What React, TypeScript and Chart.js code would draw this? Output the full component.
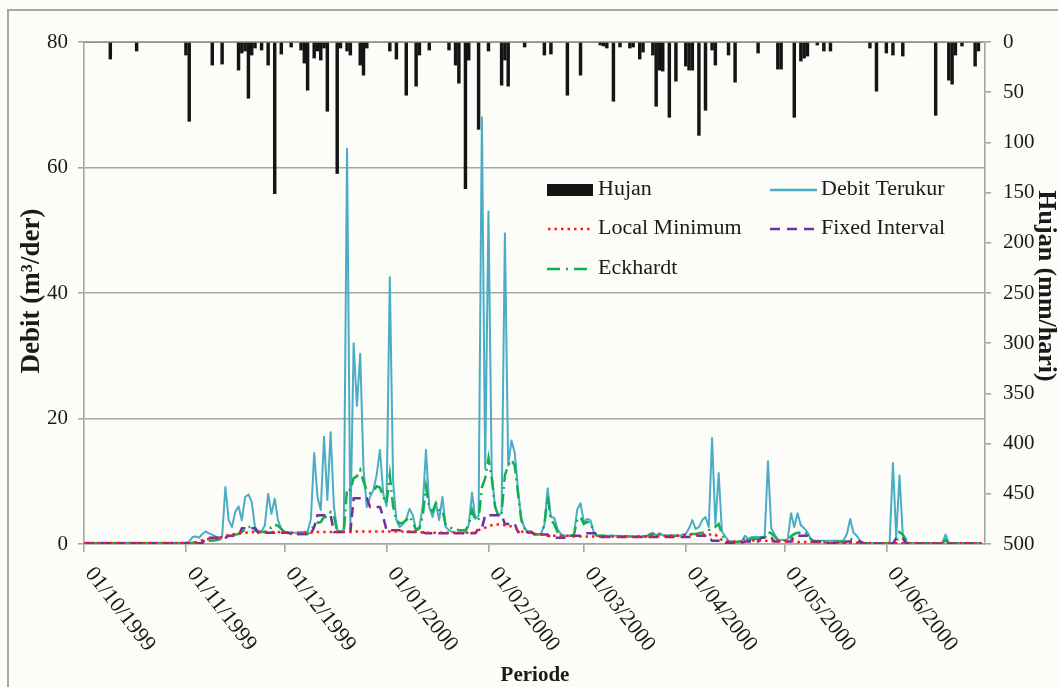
import React, { useEffect, useRef } from 'react';
import { Chart, registerables } from 'chart.js';

Chart.register(...registerables);

const SERIF = '"Liberation Serif", "Times New Roman", serif';

// Day index 0 = 01/10/1999 ... 273 = 30/06/2000
const monthTickDays = [0, 31, 61, 92, 123, 152, 183, 213, 244];
const monthTickLabels = [
  '01/10/1999', '01/11/1999', '01/12/1999', '01/01/2000', '01/02/2000',
  '01/03/2000', '01/04/2000', '01/05/2000', '01/06/2000',
];

// Hujan (mm/hari)
const hujan = [
  0, 0, 0, 0, 0, 0, 0, 0, 17, 0,
  0, 0, 0, 0, 0, 0, 9, 0, 0, 0,
  0, 0, 0, 0, 0, 0, 0, 0, 0, 0,
  0, 13, 79, 0, 0, 0, 0, 0, 0, 23,
  0, 0, 22, 0, 0, 0, 0, 28, 11, 9,
  56, 13, 6, 0, 8, 0, 23, 0, 151, 0,
  12, 0, 0, 5, 0, 0, 8, 21, 48, 0,
  16, 9, 18, 6, 69, 0, 0, 131, 6, 0,
  9, 13, 0, 0, 23, 33, 6, 0, 0, 0,
  0, 0, 0, 9, 0, 17, 0, 0, 53, 0,
  0, 44, 13, 0, 0, 8, 0, 0, 0, 0,
  0, 8, 0, 23, 41, 0, 146, 18, 0, 0,
  87, 0, 0, 9, 0, 0, 0, 43, 18, 44,
  0, 0, 0, 0, 5, 0, 0, 0, 0, 0,
  13, 0, 12, 0, 0, 0, 0, 53, 0, 0,
  0, 33, 0, 0, 0, 0, 0, 3, 4, 6,
  0, 59, 0, 5, 0, 0, 6, 5, 0, 17,
  10, 0, 0, 13, 64, 28, 29, 0, 75, 0,
  39, 0, 0, 24, 28, 28, 0, 93, 0, 68,
  0, 8, 23, 0, 0, 0, 13, 0, 40, 0,
  0, 0, 0, 0, 0, 11, 0, 0, 0, 0,
  0, 27, 27, 0, 0, 0, 75, 0, 19, 16,
  14, 0, 0, 3, 0, 9, 0, 9, 0, 0,
  0, 0, 0, 0, 0, 0, 0, 0, 0, 6,
  0, 49, 0, 0, 11, 0, 13, 0, 0, 14,
  0, 0, 0, 0, 0, 0, 0, 0, 0, 73,
  0, 0, 0, 38, 42, 13, 0, 4, 0, 0,
  0, 24, 9, 0,
];

// Debit Terukur (m3/det)
const debitTerukur = [
  0.2, 0.2, 0.2, 0.2, 0.2, 0.2, 0.2, 0.2, 0.2, 0.2,
  0.2, 0.2, 0.2, 0.2, 0.2, 0.2, 0.2, 0.2, 0.2, 0.2,
  0.2, 0.2, 0.2, 0.2, 0.2, 0.2, 0.2, 0.2, 0.2, 0.2,
  0.2, 0.2, 0.4, 1.1, 1.2, 1.0, 1.6, 2.0, 1.7, 1.5,
  1.2, 1.0, 1.2, 9.1, 3.8, 2.7, 5.1, 6.0, 3.8, 7.5,
  7.9, 6.7, 2.7, 2.0, 2.0, 3.0, 8.0, 4.8, 7.2, 3.8,
  2.4, 1.9, 1.9, 1.8, 1.8, 1.8, 1.9, 1.9, 2.0, 4.0,
  14.5, 7.5, 5.4, 17.1, 7.0, 17.8, 5.9, 2.2, 2.0, 2.2,
  63.0, 2.2, 32.0, 22.0, 30.3, 12.0, 5.9, 7.5, 8.6, 11.0,
  15.0, 8.0, 6.0, 42.5, 10.0, 3.8, 2.7, 3.2, 4.0, 5.6,
  4.6, 2.2, 2.7, 6.0, 15.0, 5.9, 4.3, 6.5, 3.8, 7.5,
  2.7, 2.2, 1.9, 1.8, 1.8, 1.8, 1.9, 3.0, 8.2, 4.0,
  4.5, 68.0, 12.0, 53.0, 11.0, 6.0, 4.5, 5.0, 49.5, 12.5,
  16.5, 14.5, 8.5, 4.0, 2.5, 2.0, 2.0, 1.6, 1.5, 1.6,
  3.0, 8.9, 4.3, 4.2, 2.4, 1.6, 1.3, 1.3, 1.3, 1.5,
  5.5, 6.5, 3.5, 4.0, 3.8, 1.9, 1.3, 1.3, 1.3, 1.3,
  1.3, 1.3, 1.3, 1.2, 1.2, 1.2, 1.2, 1.2, 1.2, 1.2,
  1.2, 1.2, 1.6, 1.8, 1.4, 1.7, 1.4, 1.3, 1.3, 1.3,
  1.3, 1.3, 1.5, 1.6, 2.5, 3.8, 2.4, 2.7, 3.8, 4.3,
  2.7, 16.9, 3.0, 11.3, 2.0, 1.2, 0.5, 0.4, 0.4, 0.4,
  0.4, 1.3, 0.8, 1.1, 1.1, 1.1, 1.1, 1.2, 13.2, 2.5,
  1.5, 0.7, 0.65, 0.65, 0.7, 4.9, 2.7, 4.9, 3.0, 2.5,
  1.9, 0.8, 0.5, 0.5, 0.5, 0.5, 0.5, 0.5, 0.5, 0.5,
  0.5, 0.6, 1.6, 4.0, 1.8, 1.3, 0.6, 0.2, 0.15, 0.15,
  0.15, 0.15, 0.15, 0.15, 0.15, 0.15, 12.9, 1.1, 10.9, 1.5,
  0.4, 0.15, 0.15, 0.15, 0.15, 0.15, 0.15, 0.15, 0.15, 0.15,
  0.15, 0.15, 1.5, 0.15, 0.15, 0.15, 0.15, 0.15, 0.15, 0.15,
  0.15, 0.15, 0.15, 0.15,
];

// Local Minimum
const localMinimum = [
  0.1, 0.1, 0.1, 0.1, 0.1, 0.1, 0.1, 0.1, 0.1, 0.1,
  0.1, 0.1, 0.1, 0.1, 0.1, 0.1, 0.1, 0.1, 0.1, 0.1,
  0.1, 0.1, 0.1, 0.1, 0.1, 0.1, 0.1, 0.1, 0.1, 0.1,
  0.1, 0.1, 0.1, 0.2, 0.3, 0.45, 0.6, 0.7, 0.8, 0.9,
  1.0, 1.0, 1.1, 1.3, 1.45, 1.5, 1.6, 1.7, 1.75, 1.8,
  1.85, 1.9, 1.9, 1.9, 1.9, 1.9, 1.9, 1.9, 1.9, 1.9,
  1.9, 1.9, 1.8, 1.8, 1.8, 1.8, 1.8, 1.8, 1.8, 1.8,
  1.9, 1.9, 1.9, 1.9, 1.9, 1.9, 1.9, 1.9, 1.9, 1.9,
  1.9, 2.0, 2.0, 2.0, 2.0, 2.0, 2.0, 2.0, 2.0, 2.0,
  2.0, 2.0, 2.0, 2.0, 2.0, 2.0, 2.0, 2.0, 2.0, 2.0,
  2.0, 2.0, 2.0, 1.8, 1.8, 1.8, 1.8, 1.8, 1.8, 1.8,
  1.8, 1.8, 1.8, 1.8, 1.8, 1.8, 1.8, 1.8, 1.8, 1.8,
  2.2, 2.4, 2.6, 2.8, 3.0, 3.1, 3.1, 3.1, 3.0, 2.9,
  2.8, 2.5, 2.3, 2.0, 1.9, 1.8, 1.7, 1.6, 1.5, 1.5,
  1.5, 1.3, 1.3, 1.3, 1.3, 1.3, 1.3, 1.3, 1.2, 1.2,
  1.2, 1.2, 1.2, 1.2, 1.2, 1.2, 1.2, 1.2, 1.2, 1.2,
  1.2, 1.2, 1.2, 1.2, 1.2, 1.2, 1.2, 1.2, 1.2, 1.2,
  1.2, 1.2, 1.3, 1.3, 1.3, 1.3, 1.3, 1.3, 1.3, 1.3,
  1.3, 1.3, 1.4, 1.5, 1.5, 1.5, 1.5, 1.5, 1.5, 1.5,
  1.5, 1.5, 1.5, 1.0, 0.65, 0.55, 0.4, 0.4, 0.4, 0.4,
  0.4, 0.55, 0.55, 0.55, 0.55, 0.55, 0.55, 0.55, 0.45, 0.45,
  0.45, 0.45, 0.45, 0.45, 0.45, 0.45, 0.45, 0.3, 0.3, 0.3,
  0.3, 0.3, 0.3, 0.3, 0.3, 0.3, 0.15, 0.15, 0.15, 0.15,
  0.15, 0.15, 0.15, 0.15, 0.15, 0.15, 0.15, 0.15, 0.15, 0.15,
  0.1, 0.1, 0.1, 0.1, 0.1, 0.1, 0.1, 0.1, 0.1, 0.1,
  0.1, 0.1, 0.1, 0.1, 0.1, 0.1, 0.1, 0.1, 0.1, 0.1,
  0.1, 0.1, 0.1, 0.1, 0.1, 0.1, 0.1, 0.1, 0.1, 0.1,
  0.1, 0.1, 0.1, 0.1,
];

// Fixed Interval
const fixedInterval = [
  0.1, 0.1, 0.1, 0.1, 0.1, 0.1, 0.1, 0.1, 0.1, 0.1,
  0.1, 0.1, 0.1, 0.1, 0.1, 0.1, 0.1, 0.1, 0.1, 0.1,
  0.1, 0.1, 0.1, 0.1, 0.1, 0.1, 0.1, 0.1, 0.1, 0.1,
  0.1, 0.1, 0.1, 0.1, 0.1, 0.1, 0.1, 1.0, 1.0, 1.0,
  1.0, 1.0, 1.0, 1.0, 1.3, 1.3, 1.3, 1.3, 2.5, 2.5,
  2.5, 2.5, 2.5, 1.8, 1.8, 1.8, 1.8, 1.8, 1.8, 1.8,
  1.8, 1.8, 1.8, 1.6, 1.6, 1.6, 1.6, 1.6, 1.6, 1.6,
  2.7, 4.6, 4.6, 4.6, 4.6, 4.6, 1.9, 1.9, 1.9, 1.9,
  1.9, 1.9, 7.3, 7.3, 7.3, 7.3, 7.3, 5.9, 5.9, 5.9,
  5.9, 4.3, 2.2, 2.2, 2.2, 2.2, 2.2, 1.9, 1.9, 1.9,
  1.9, 1.9, 1.9, 1.9, 1.7, 1.7, 1.7, 1.7, 1.7, 1.7,
  1.7, 1.7, 1.7, 1.7, 1.7, 1.7, 1.7, 1.7, 1.7, 1.7,
  2.5, 2.5, 4.6, 4.6, 4.6, 4.6, 4.6, 4.6, 3.2, 3.2,
  3.2, 3.2, 1.9, 1.9, 1.9, 1.9, 1.9, 1.5, 1.5, 1.5,
  1.5, 1.5, 1.0, 1.0, 1.0, 1.0, 1.0, 1.3, 1.3, 1.3,
  1.3, 1.3, 1.7, 1.7, 1.7, 1.7, 1.7, 1.1, 1.1, 1.1,
  1.1, 1.1, 1.1, 1.1, 1.1, 1.1, 1.1, 1.1, 1.1, 1.1,
  1.1, 1.1, 1.1, 1.1, 1.1, 1.1, 1.1, 1.1, 1.1, 1.1,
  1.1, 1.1, 1.1, 1.1, 1.1, 1.1, 1.3, 1.3, 1.3, 1.3,
  1.3, 0.5, 0.5, 0.5, 0.5, 0.2, 0.2, 0.2, 0.2, 0.2,
  0.2, 0.4, 0.4, 0.4, 0.4, 0.4, 1.0, 1.0, 1.0, 1.0,
  0.4, 0.4, 0.4, 0.4, 0.4, 0.4, 1.3, 1.3, 1.3, 1.3,
  1.3, 0.4, 0.4, 0.4, 0.4, 0.4, 0.1, 0.1, 0.1, 0.1,
  0.1, 0.1, 0.4, 0.4, 0.4, 0.4, 0.4, 0.05, 0.05, 0.05,
  0.05, 0.05, 0.05, 0.05, 0.05, 0.05, 0.05, 0.9, 0.9, 0.9,
  0.05, 0.05, 0.05, 0.05, 0.05, 0.05, 0.05, 0.05, 0.05, 0.05,
  0.05, 0.05, 0.05, 0.05, 0.05, 0.05, 0.05, 0.05, 0.05, 0.05,
  0.05, 0.05, 0.05, 0.05,
];

// Eckhardt
const eckhardt = [
  0.1, 0.1, 0.1, 0.1, 0.1, 0.1, 0.1, 0.1, 0.1, 0.1,
  0.1, 0.1, 0.1, 0.1, 0.1, 0.1, 0.1, 0.1, 0.1, 0.1,
  0.1, 0.1, 0.1, 0.1, 0.1, 0.1, 0.1, 0.1, 0.1, 0.1,
  0.1, 0.1, 0.1, 0.2, 0.25, 0.3, 0.3, 0.4, 0.5, 0.55,
  0.6, 0.7, 0.9, 1.2, 1.3, 1.3, 1.5, 1.6, 1.9, 2.3,
  2.7, 2.7, 2.2, 1.9, 1.9, 1.9, 2.6, 2.6, 3.1, 2.9,
  2.4, 1.8, 1.7, 1.6, 1.6, 1.6, 1.6, 1.6, 1.6, 2.2,
  3.0, 3.4, 3.5, 4.3, 4.3, 5.1, 4.5, 2.0, 1.9, 1.9,
  8.9, 8.6, 10.5, 10.8, 11.8, 10.0, 8.5, 8.1, 8.4, 9.2,
  9.0, 7.5, 6.5, 11.0, 6.0, 3.8, 3.3, 3.4, 3.8, 4.4,
  3.5, 2.2, 2.5, 4.5, 9.1, 5.9, 5.2, 6.5, 5.4, 5.4,
  3.0, 2.7, 2.5, 2.3, 2.2, 2.2, 2.2, 3.0, 5.4, 3.8,
  4.0, 9.0, 10.5, 13.7, 10.5, 6.0, 4.5, 5.0, 11.0, 12.5,
  13.4, 12.5, 8.0, 3.8, 2.5, 2.0, 1.8, 1.6, 1.5, 1.6,
  3.0, 7.5, 3.8, 3.2, 1.9, 1.5, 1.3, 1.3, 1.3, 1.5,
  3.8, 4.3, 3.2, 3.5, 3.5, 1.9, 1.3, 1.3, 1.3, 1.3,
  1.3, 1.3, 1.3, 1.2, 1.2, 1.2, 1.2, 1.2, 1.2, 1.2,
  1.2, 1.2, 1.5, 1.6, 1.4, 1.6, 1.4, 1.3, 1.3, 1.3,
  1.3, 1.3, 1.4, 1.4, 1.5, 1.6, 1.6, 1.7, 1.8, 1.9,
  2.2, 2.4, 2.7, 3.2, 1.6, 0.5, 0.3, 0.3, 0.3, 0.3,
  0.3, 1.0, 0.5, 0.8, 0.8, 0.8, 0.8, 0.9, 1.9, 1.7,
  1.2, 0.65, 0.55, 0.55, 0.55, 1.2, 1.6, 1.8, 1.8, 1.9,
  1.5, 0.8, 0.3, 0.3, 0.3, 0.3, 0.3, 0.3, 0.3, 0.3,
  0.3, 0.3, 0.65, 0.8, 0.65, 0.3, 0.1, 0.1, 0.1, 0.1,
  0.1, 0.1, 0.1, 0.1, 0.1, 0.1, 0.1, 0.1, 1.9, 1.5,
  0.65, 0.1, 0.1, 0.1, 0.1, 0.1, 0.1, 0.1, 0.1, 0.1,
  0.1, 0.1, 0.65, 0.1, 0.1, 0.1, 0.1, 0.1, 0.1, 0.1,
  0.1, 0.1, 0.1, 0.1,
];

const COLORS = {
  hujan: '#141414',
  terukur: '#4bacc6',
  local: '#ff1a1a',
  fixed: '#7030a0',
  eck: '#10b050',
  grid: '#a6a6a6',
  text: '#1a1a1a',
};

const toXY = (arr: number[]) => arr.map((v, i) => ({ x: i, y: v }));

export default function App() {
  const ref = useRef<HTMLCanvasElement | null>(null);

  useEffect(() => {
    if (!ref.current) return;

    const overlay = {
      id: 'overlay',
      afterDraw(chart: any) {
        const ctx = chart.ctx as CanvasRenderingContext2D;
        const xs = chart.scales.x;
        ctx.save();
        ctx.fillStyle = COLORS.text;

        // rotated date labels
        ctx.font = `22px ${SERIF}`;
        ctx.textAlign = 'left';
        ctx.textBaseline = 'middle';
        monthTickDays.forEach((d, i) => {
          const px = xs.getPixelForValue(d);
          ctx.save();
          ctx.translate(px + 5, 570);
          ctx.rotate((52 * Math.PI) / 180);
          ctx.fillText(monthTickLabels[i], 0, 0);
          ctx.restore();
        });

        // axis titles
        ctx.font = `bold 27px ${SERIF}`;
        ctx.textAlign = 'center';
        ctx.textBaseline = 'middle';
        ctx.save();
        ctx.translate(32, 291);
        ctx.rotate(-Math.PI / 2);
        ctx.fillText('Debit (m\u00b3/der)', 0, 0);
        ctx.restore();
        ctx.font = `bold 26px ${SERIF}`;
        ctx.save();
        ctx.translate(1046, 286);
        ctx.rotate(Math.PI / 2);
        ctx.fillText('Hujan (mm/hari)', 0, 0);
        ctx.restore();
        ctx.font = `bold 21px ${SERIF}`;
        ctx.fillText('Periode', 535, 676);

        // legend
        const rows = [190, 229, 269];
        const label = (t: string, x: number, y: number) => {
          ctx.save();
          ctx.font = `20px ${SERIF}`;
          ctx.textAlign = 'left';
          ctx.textBaseline = 'middle';
          ctx.fillStyle = COLORS.text;
          ctx.translate(x, y);
          ctx.scale(1.1, 1);
          ctx.fillText(t, 0, 0);
          ctx.restore();
        };
        const seg = (x1: number, x2: number, y: number, color: string, dash: number[], w: number) => {
          ctx.save();
          ctx.strokeStyle = color;
          ctx.lineWidth = w;
          ctx.setLineDash(dash);
          ctx.beginPath();
          ctx.moveTo(x1, y);
          ctx.lineTo(x2, y);
          ctx.stroke();
          ctx.restore();
        };
        ctx.fillStyle = COLORS.hujan;
        ctx.fillRect(547, 184, 46, 12);
        label('Hujan', 598, rows[0]);
        seg(770, 817, rows[0], COLORS.terukur, [], 2.5);
        label('Debit Terukur', 821, rows[0]);
        seg(548, 593, rows[1], COLORS.local, [2.5, 4], 2.5);
        label('Local Minimum', 598, rows[1]);
        seg(770, 817, rows[1], COLORS.fixed, [10, 7], 2.5);
        label('Fixed Interval', 821, rows[1]);
        seg(547, 593, rows[2], COLORS.eck, [13, 6, 2, 6], 2.5);
        label('Eckhardt', 598, rows[2]);
        ctx.restore();
      },
    };

    const tickFont = { family: SERIF, size: 21 };

    const chart = new Chart(ref.current, {
      type: 'bar',
      data: {
        datasets: [
          {
            type: 'line',
            label: 'Local Minimum',
            data: toXY(localMinimum),
            borderColor: COLORS.local,
            borderWidth: 2.5,
            borderDash: [2.5, 4],
            pointRadius: 0,
            yAxisID: 'y',
            order: 1,
          },
          {
            type: 'line',
            label: 'Fixed Interval',
            data: toXY(fixedInterval),
            borderColor: COLORS.fixed,
            borderWidth: 2.5,
            borderDash: [10, 6],
            pointRadius: 0,
            yAxisID: 'y',
            order: 2,
          },
          {
            type: 'line',
            label: 'Eckhardt',
            data: toXY(eckhardt),
            borderColor: COLORS.eck,
            borderWidth: 2.5,
            borderDash: [13, 5, 2, 5],
            pointRadius: 0,
            yAxisID: 'y',
            order: 3,
          },
          {
            type: 'line',
            label: 'Debit Terukur',
            data: toXY(debitTerukur),
            borderColor: COLORS.terukur,
            borderWidth: 2,
            borderJoinStyle: 'round',
            pointRadius: 0,
            yAxisID: 'y',
            order: 4,
          },
          {
            type: 'bar',
            label: 'Hujan',
            data: toXY(hujan),
            backgroundColor: COLORS.hujan,
            borderWidth: 0,
            barThickness: 2.8,
            yAxisID: 'y2',
            order: 5,
          },
        ] as any,
      },
      options: {
        responsive: false,
        animation: false,
        events: [],
        layout: { padding: { top: 42, left: 0, right: 0, bottom: 0 } },
        plugins: {
          legend: { display: false },
          tooltip: { enabled: false },
          title: { display: false },
        },
        scales: {
          x: {
            type: 'linear',
            position: 'bottom',
            min: 0,
            max: 274,
            offset: false,
            afterBuildTicks: (scale: any) => {
              scale.ticks = monthTickDays.map((v) => ({ value: v }));
            },
            afterFit: (scale: any) => {
              scale.height = 143;
            },
            ticks: { display: false },
            grid: {
              offset: false,
              drawOnChartArea: false,
              drawTicks: true,
              tickLength: 8,
              color: COLORS.grid,
              lineWidth: 1.6,
            },
            border: { display: true, color: COLORS.grid, width: 1.6 },
          },
          y: {
            type: 'linear',
            position: 'left',
            min: 0,
            max: 80,
            ticks: { stepSize: 20, font: tickFont, color: COLORS.text, padding: 10 },
            grid: { color: COLORS.grid, lineWidth: 1.6, tickLength: 6 },
            border: { display: true, color: COLORS.grid, width: 1.6 },
            afterFit: (scale: any) => {
              scale.width = 84;
            },
          },
          y2: {
            type: 'linear',
            position: 'right',
            min: 0,
            max: 500,
            reverse: true,
            ticks: { stepSize: 50, font: tickFont, color: COLORS.text, padding: 12 },
            grid: { drawOnChartArea: false, color: COLORS.grid, lineWidth: 1.6, tickLength: 6 },
            border: { display: true, color: COLORS.grid, width: 1.6 },
            afterFit: (scale: any) => {
              scale.width = 73;
            },
          },
        },
      } as any,
      plugins: [overlay],
    });

    return () => chart.destroy();
  }, []);

  return (
    <div
      style={{
        position: 'fixed',
        left: 0,
        top: 0,
        width: 1058,
        height: 687,
        background: '#fcfcf8',
        overflow: 'hidden',
      }}
    >
      <div
        style={{
          position: 'absolute',
          left: 7,
          top: 9,
          width: 1060,
          height: 690,
          borderLeft: '2px solid #a8a8a8',
          borderTop: '2px solid #a8a8a8',
        }}
      />
      <canvas
        ref={ref}
        width={1058}
        height={687}
        style={{ position: 'absolute', left: 0, top: 0, width: 1058, height: 687 }}
      />
    </div>
  );
}
